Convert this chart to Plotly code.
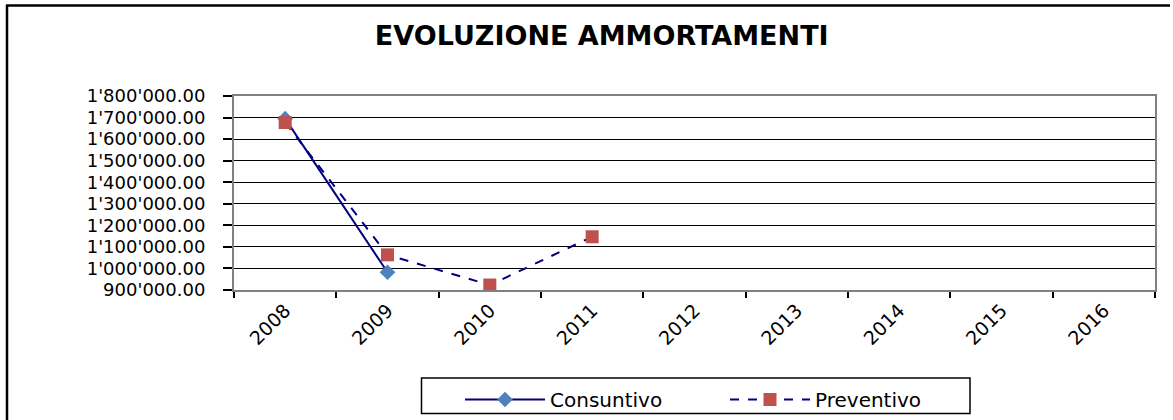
import plotly.graph_objects as go

years = ["2008", "2009", "2010", "2011", "2012", "2013", "2014", "2015", "2016"]
consuntivo = [1695000, 982000, None, None, None, None, None, None, None]
preventivo = [1677000, 1063000, 923000, 1147000, None, None, None, None, None]
title_text = "EVOLUZIONE AMMORTAMENTI"

W, H = 1173, 420
L, R, T, B = 234, 1155, 96, 290

fig = go.Figure()
fig.add_trace(go.Scatter(
    x=years, y=consuntivo, name="Consuntivo", mode="lines+markers",
    line=dict(color="#000080", width=2),
    marker=dict(symbol="diamond", size=12, color="#4F81BD"),
))
fig.add_trace(go.Scatter(
    x=years, y=preventivo, name="Preventivo", mode="lines+markers",
    line=dict(color="#000080", width=2, dash="dash"),
    marker=dict(symbol="square", size=13, color="#C0504D"),
))

def px_x(p):
    return (p - L) / (R - L)

def px_y(p):
    return (B - p) / (B - T)

shapes = [
    # outer chart frame (left and top edges visible)
    dict(type="line", xref="paper", yref="paper", x0=px_x(7), x1=px_x(7),
         y0=px_y(5), y1=px_y(430), line=dict(color="black", width=2.5)),
    dict(type="line", xref="paper", yref="paper", x0=px_x(6), x1=px_x(1170),
         y0=px_y(5.5), y1=px_y(5.5), line=dict(color="black", width=2.5)),
    # legend box
    dict(type="rect", xref="paper", yref="paper", x0=px_x(421.5), x1=px_x(970),
         y0=px_y(378), y1=px_y(413.5), line=dict(color="black", width=1.5),
         fillcolor="rgba(0,0,0,0)"),
]

fig.update_layout(
    width=W, height=H,
    margin=dict(l=L, r=W - R, t=T, b=H - B, pad=0, autoexpand=False),
    paper_bgcolor="white", plot_bgcolor="white",
    separators=".'",
    font=dict(family="DejaVu Sans", color="black"),
    title=dict(text="<b>" + title_text + "</b>", x=0.513, xanchor="center",
               xref="container", yref="container",
               y=1 - 36 / H, yanchor="middle",
               font=dict(family="DejaVu Sans", size=27, color="black")),
    shapes=shapes,
    showlegend=True,
    legend=dict(orientation="h", x=px_x(460), xanchor="left", y=px_y(380), yanchor="top",
                borderwidth=0, bgcolor="rgba(0,0,0,0)",
                font=dict(family="DejaVu Sans", size=20, color="black"),
                itemwidth=80, entrywidth=170, entrywidthmode="pixels"),
    xaxis=dict(
        type="category", range=[-0.5, 8.5], tickson="boundaries", automargin=False,
        showgrid=False, showline=True, linecolor="#808080", linewidth=2, mirror=True,
        ticks="outside", ticklen=6, tickcolor="black", tickwidth=1.5,
        tickangle=-45, tickfont=dict(family="DejaVu Sans", size=19, color="black"),
    ),
    yaxis=dict(
        range=[900000, 1800000], dtick=100000, tickformat=",.2f", automargin=False,
        showgrid=True, gridcolor="black", gridwidth=1,
        showline=True, linecolor="#808080", linewidth=2, mirror=True,
        ticks="outside", ticklen=9, tickcolor="black", tickwidth=1.5,
        ticklabelstandoff=14,
        tickfont=dict(family="DejaVu Sans", size=18, color="black"),
        zeroline=False,
    ),
)

fig.write_html("out.html", config={"displayModeBar": False},
               post_script="document.body.style.margin='0';")
